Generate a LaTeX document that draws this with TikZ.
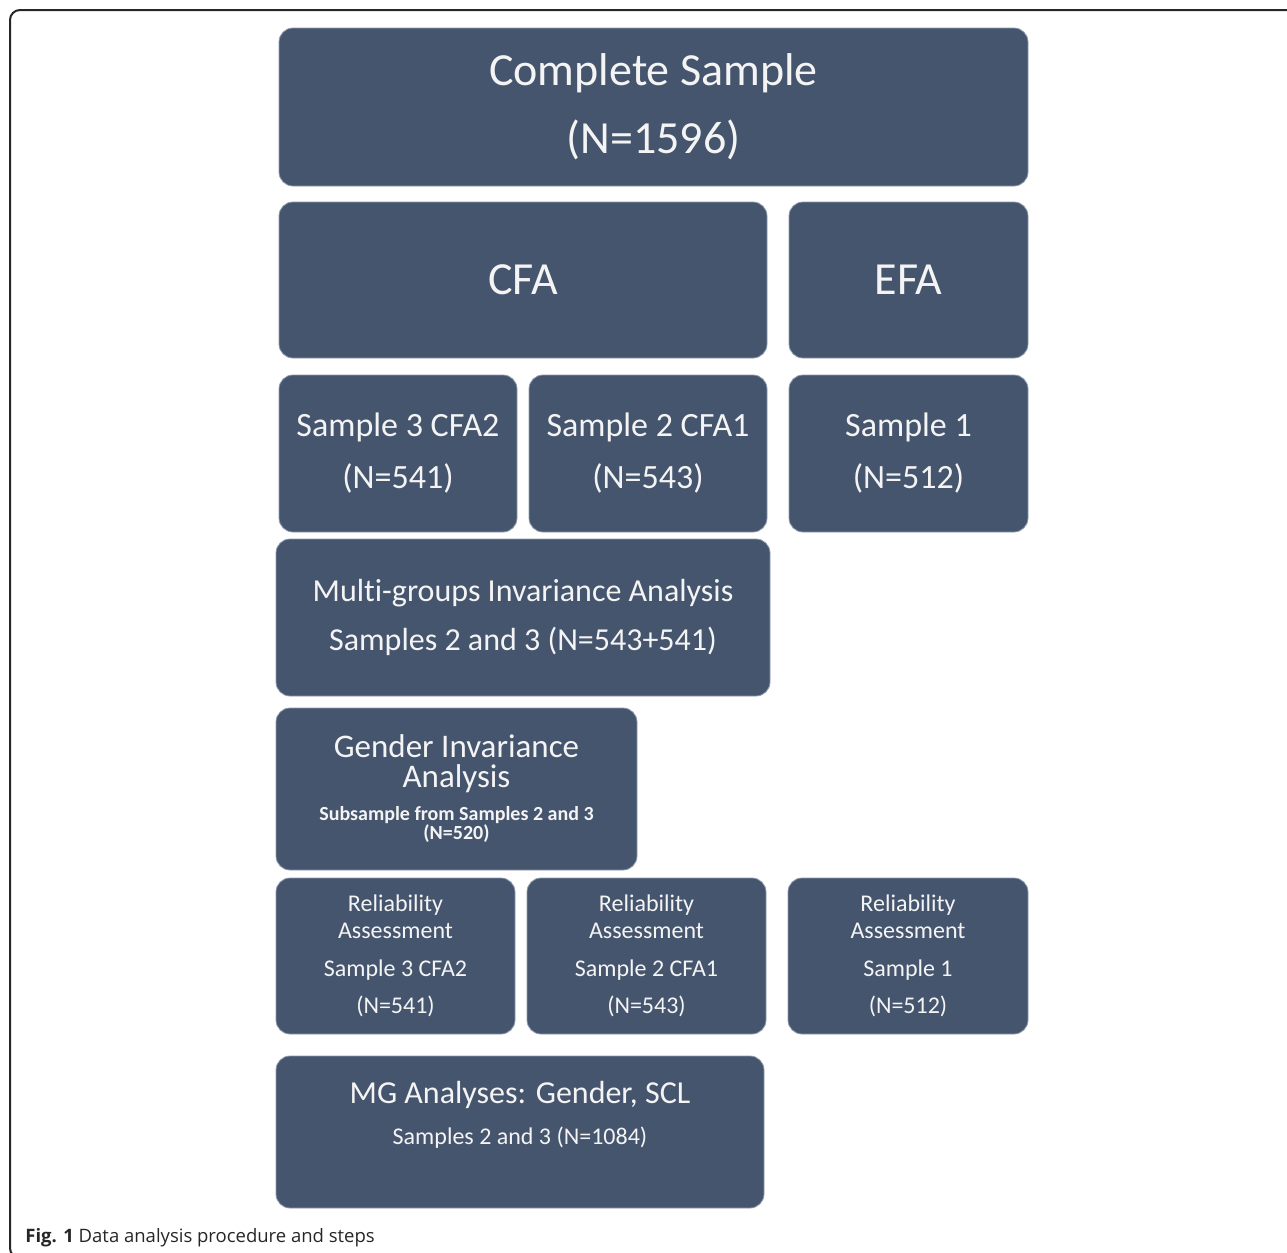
\documentclass[tikz,border=0pt]{standalone}
\usepackage{fontspec}
\setmainfont{Carlito}[Ligatures=NoCommon]
\newfontfamily\capfont{Open Sans}
\definecolor{slate}{HTML}{46556E}
\definecolor{slateedge}{HTML}{8E9AAE}
\definecolor{paleword}{HTML}{F4F4F4}
\newcommand\finetext[1]{{\fontsize{10}{12}\selectfont\bfseries #1}}

\begin{document}
\begin{tikzpicture}[x=0.5pt,y=-0.5pt,
  phase/.style 2 args={rounded corners=7pt, fill=slate, draw=slateedge, line width=0.4pt,
    text=paleword, align=center, inner sep=0pt, minimum width=#1, minimum height=#2},
  big/.style={font=\fontsize{23}{34}\selectfont},
  mid/.style={font=\fontsize{17}{26}\selectfont},
  rel/.style={font=\fontsize{12}{13.5}\selectfont}]
  \useasboundingbox (0,0) rectangle (1287,1253);
  \draw[line width=1pt, color=black!85, rounded corners=5pt]
    (1320,10) -- (10,10) -- (10,1258) -- (60,1258);

  \node[phase={374.5pt}{79pt}, big] (whole) at (653.5,107) {Complete Sample\\(N=1596)};
  \node[phase={244pt}{78pt}, big] (cfa) at (523,280) {CFA};
  \node[phase={119.5pt}{78pt}, big] (efa) at (908.5,280) {EFA};
  \node[phase={119pt}{78.5pt}, mid] (cfatwo) at (398,453.5) {Sample 3 CFA2\\(N=541)};
  \node[phase={119pt}{78.5pt}, mid] (cfaone) at (648,453.5) {Sample 2 CFA1\\(N=543)};
  \node[phase={119.5pt}{78.5pt}, mid] (explore) at (908.5,453.5) {Sample 1\\(N=512)};
  \node[phase={247pt}{78.5pt}, font=\fontsize{16}{24.5}\selectfont] (multi) at (523,617.5)
    {Multi-groups Invariance Analysis\\Samples 2 and 3 (N=543+541)};
  \node[phase={180.5pt}{81pt}, font=\fontsize{16.5}{15}\selectfont] (gender) at (456.5,789)
    {Gender Invariance\\Analysis\\[1.5pt]\finetext{Subsample from Samples 2 and 3}\\[-5.5pt]\finetext{(N=520)}};
  \node[phase={119.5pt}{78pt}, rel] (relthree) at (395.5,956)
    {Reliability\\Assessment\\[5.5pt]Sample 3 CFA2\\[5pt](N=541)};
  \node[phase={119.5pt}{78pt}, rel] (reltwo) at (646.5,956)
    {Reliability\\Assessment\\[5.5pt]Sample 2 CFA1\\[5pt](N=543)};
  \node[phase={120pt}{78pt}, rel] (relone) at (908,956)
    {Reliability\\Assessment\\[5.5pt]Sample 1\\[5pt](N=512)};
  \node[phase={244pt}{76pt}, font=\fontsize{16}{20.5}\selectfont, text depth=19pt] (mg) at (520,1132)
    {MG Analyses: Gender, SCL\\{\fontsize{12}{14}\selectfont Samples 2 and 3 (N=1084)}};

  \node[anchor=base west, inner sep=0pt, font=\capfont\fontsize{9.25}{11}\selectfont, text=black!85]
    (caption) at (25,1242) {\textbf{Fig. 1} Data analysis procedure and steps};
\end{tikzpicture}
\end{document}
